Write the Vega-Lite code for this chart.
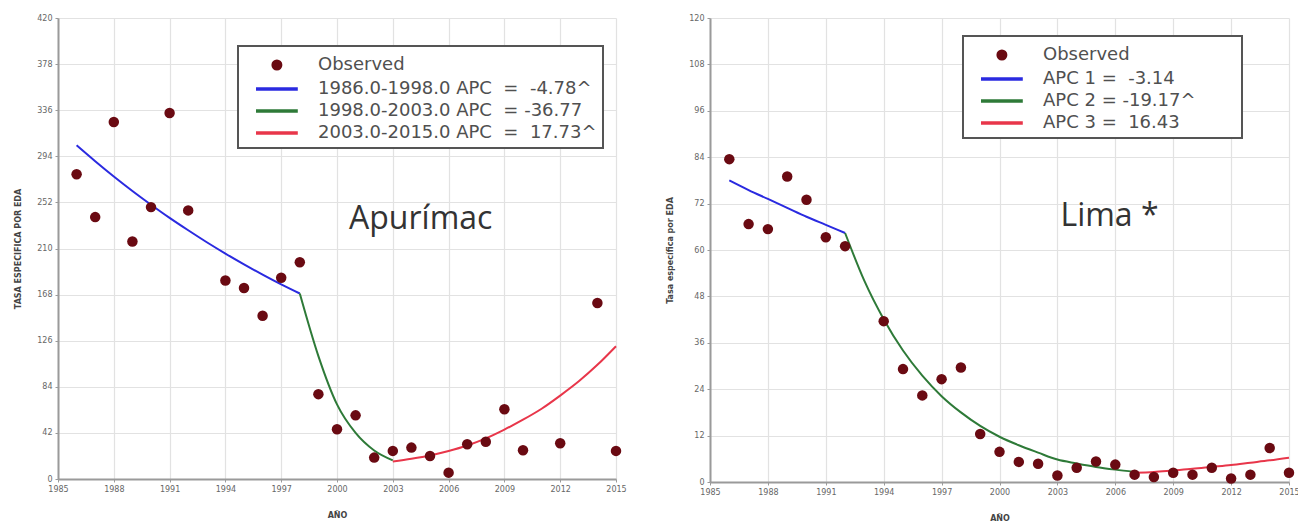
{
  "$schema": "https://vega.github.io/schema/vega-lite/v6.json",
  "background": "white",
  "padding": {"left": 14, "top": 14, "right": 0, "bottom": 5},
  "spacing": 39,
  "config": {
    "view": {"stroke": null},
    "font": "DejaVu Sans",
    "axis": {
      "domainColor": "#9a9a9a", "domainWidth": 2,
      "gridColor": "#e2e2e2", "gridWidth": 1.2,
      "tickColor": "#9a9a9a", "tickSize": 3,
      "labelFont": "DejaVu Sans", "labelFontSize": 8, "labelColor": "#666", "labelFlush": false,
      "titleFont": "DejaVu Sans", "titleFontSize": 8, "titleFontWeight": "bold", "titleColor": "#444"
    },
    "legend": {
      "labelFont": "DejaVu Sans", "labelFontSize": 18, "labelColor": "#505050", "labelLimit": 600
    }
  },
  "datasets": {
    "apu_obs": [
      {"year": 1986, "value": 277.6}, {"year": 1987, "value": 238.6}, {"year": 1988, "value": 325.3},
      {"year": 1989, "value": 216.4}, {"year": 1990, "value": 247.7}, {"year": 1991, "value": 333.5},
      {"year": 1992, "value": 244.7}, {"year": 1994, "value": 180.8}, {"year": 1995, "value": 174.0},
      {"year": 1996, "value": 148.8}, {"year": 1997, "value": 183.3}, {"year": 1998, "value": 197.5},
      {"year": 1999, "value": 77.3}, {"year": 2000, "value": 45.4}, {"year": 2001, "value": 58.0},
      {"year": 2002, "value": 19.5}, {"year": 2003, "value": 25.6}, {"year": 2004, "value": 28.6},
      {"year": 2005, "value": 21.0}, {"year": 2006, "value": 5.8}, {"year": 2007, "value": 31.7},
      {"year": 2008, "value": 34.0}, {"year": 2009, "value": 63.6}, {"year": 2010, "value": 26.2},
      {"year": 2012, "value": 32.6}, {"year": 2014, "value": 160.4}, {"year": 2015, "value": 25.6}
    ],
    "apu_fit": [
      {"year": 1986, "value": 304.0, "series": "1986.0-1998.0 APC\u00a0 =\u00a0 -4.78^"},
      {"year": 1987, "value": 289.5, "series": "1986.0-1998.0 APC\u00a0 =\u00a0 -4.78^"},
      {"year": 1988, "value": 275.6, "series": "1986.0-1998.0 APC\u00a0 =\u00a0 -4.78^"},
      {"year": 1989, "value": 262.4, "series": "1986.0-1998.0 APC\u00a0 =\u00a0 -4.78^"},
      {"year": 1990, "value": 249.9, "series": "1986.0-1998.0 APC\u00a0 =\u00a0 -4.78^"},
      {"year": 1991, "value": 237.9, "series": "1986.0-1998.0 APC\u00a0 =\u00a0 -4.78^"},
      {"year": 1992, "value": 226.6, "series": "1986.0-1998.0 APC\u00a0 =\u00a0 -4.78^"},
      {"year": 1993, "value": 215.7, "series": "1986.0-1998.0 APC\u00a0 =\u00a0 -4.78^"},
      {"year": 1994, "value": 205.4, "series": "1986.0-1998.0 APC\u00a0 =\u00a0 -4.78^"},
      {"year": 1995, "value": 195.6, "series": "1986.0-1998.0 APC\u00a0 =\u00a0 -4.78^"},
      {"year": 1996, "value": 186.2, "series": "1986.0-1998.0 APC\u00a0 =\u00a0 -4.78^"},
      {"year": 1997, "value": 177.3, "series": "1986.0-1998.0 APC\u00a0 =\u00a0 -4.78^"},
      {"year": 1998, "value": 169.0, "series": "1986.0-1998.0 APC\u00a0 =\u00a0 -4.78^"},
      {"year": 1998, "value": 169.0, "series": "1998.0-2003.0 APC\u00a0 =\u00a0-36.77"},
      {"year": 1999, "value": 112.0, "series": "1998.0-2003.0 APC\u00a0 =\u00a0-36.77"},
      {"year": 2000, "value": 68.0, "series": "1998.0-2003.0 APC\u00a0 =\u00a0-36.77"},
      {"year": 2001, "value": 42.0, "series": "1998.0-2003.0 APC\u00a0 =\u00a0-36.77"},
      {"year": 2002, "value": 26.0, "series": "1998.0-2003.0 APC\u00a0 =\u00a0-36.77"},
      {"year": 2003, "value": 17.0, "series": "1998.0-2003.0 APC\u00a0 =\u00a0-36.77"},
      {"year": 2003, "value": 16.0, "series": "2003.0-2015.0 APC\u00a0 =\u00a0 17.73^"},
      {"year": 2004, "value": 18.5, "series": "2003.0-2015.0 APC\u00a0 =\u00a0 17.73^"},
      {"year": 2005, "value": 21.5, "series": "2003.0-2015.0 APC\u00a0 =\u00a0 17.73^"},
      {"year": 2006, "value": 25.5, "series": "2003.0-2015.0 APC\u00a0 =\u00a0 17.73^"},
      {"year": 2007, "value": 30.5, "series": "2003.0-2015.0 APC\u00a0 =\u00a0 17.73^"},
      {"year": 2008, "value": 37.0, "series": "2003.0-2015.0 APC\u00a0 =\u00a0 17.73^"},
      {"year": 2009, "value": 45.0, "series": "2003.0-2015.0 APC\u00a0 =\u00a0 17.73^"},
      {"year": 2010, "value": 54.0, "series": "2003.0-2015.0 APC\u00a0 =\u00a0 17.73^"},
      {"year": 2011, "value": 64.0, "series": "2003.0-2015.0 APC\u00a0 =\u00a0 17.73^"},
      {"year": 2012, "value": 76.0, "series": "2003.0-2015.0 APC\u00a0 =\u00a0 17.73^"},
      {"year": 2013, "value": 89.0, "series": "2003.0-2015.0 APC\u00a0 =\u00a0 17.73^"},
      {"year": 2014, "value": 104.0, "series": "2003.0-2015.0 APC\u00a0 =\u00a0 17.73^"},
      {"year": 2015, "value": 121.0, "series": "2003.0-2015.0 APC\u00a0 =\u00a0 17.73^"}
    ],
    "lima_obs": [
      {"year": 1986, "value": 83.5}, {"year": 1987, "value": 66.7}, {"year": 1988, "value": 65.4},
      {"year": 1989, "value": 79.0}, {"year": 1990, "value": 73.0}, {"year": 1991, "value": 63.3},
      {"year": 1992, "value": 61.0}, {"year": 1994, "value": 41.6}, {"year": 1995, "value": 29.2},
      {"year": 1996, "value": 22.4}, {"year": 1997, "value": 26.6}, {"year": 1998, "value": 29.6},
      {"year": 1999, "value": 12.4}, {"year": 2000, "value": 7.8}, {"year": 2001, "value": 5.2},
      {"year": 2002, "value": 4.7}, {"year": 2003, "value": 1.7}, {"year": 2004, "value": 3.7},
      {"year": 2005, "value": 5.3}, {"year": 2006, "value": 4.5}, {"year": 2007, "value": 1.9},
      {"year": 2008, "value": 1.3}, {"year": 2009, "value": 2.4}, {"year": 2010, "value": 1.9},
      {"year": 2011, "value": 3.7}, {"year": 2012, "value": 0.9}, {"year": 2013, "value": 1.9},
      {"year": 2014, "value": 8.8}, {"year": 2015, "value": 2.4}
    ],
    "lima_fit": [
      {"year": 1986, "value": 78.0, "series": "APC 1 =\u00a0 -3.14"},
      {"year": 1987, "value": 75.5, "series": "APC 1 =\u00a0 -3.14"},
      {"year": 1988, "value": 73.2, "series": "APC 1 =\u00a0 -3.14"},
      {"year": 1989, "value": 70.9, "series": "APC 1 =\u00a0 -3.14"},
      {"year": 1990, "value": 68.6, "series": "APC 1 =\u00a0 -3.14"},
      {"year": 1991, "value": 66.5, "series": "APC 1 =\u00a0 -3.14"},
      {"year": 1992, "value": 64.4, "series": "APC 1 =\u00a0 -3.14"},
      {"year": 1992, "value": 64.4, "series": "APC 2 = -19.17^"},
      {"year": 1993, "value": 52.0, "series": "APC 2 = -19.17^"},
      {"year": 1994, "value": 42.1, "series": "APC 2 = -19.17^"},
      {"year": 1995, "value": 34.0, "series": "APC 2 = -19.17^"},
      {"year": 1996, "value": 27.5, "series": "APC 2 = -19.17^"},
      {"year": 1997, "value": 22.2, "series": "APC 2 = -19.17^"},
      {"year": 1998, "value": 18.0, "series": "APC 2 = -19.17^"},
      {"year": 1999, "value": 14.5, "series": "APC 2 = -19.17^"},
      {"year": 2000, "value": 11.7, "series": "APC 2 = -19.17^"},
      {"year": 2001, "value": 9.5, "series": "APC 2 = -19.17^"},
      {"year": 2002, "value": 7.6, "series": "APC 2 = -19.17^"},
      {"year": 2003, "value": 5.8, "series": "APC 2 = -19.17^"},
      {"year": 2004, "value": 4.8, "series": "APC 2 = -19.17^"},
      {"year": 2005, "value": 3.9, "series": "APC 2 = -19.17^"},
      {"year": 2006, "value": 3.2, "series": "APC 2 = -19.17^"},
      {"year": 2007, "value": 2.6, "series": "APC 2 = -19.17^"},
      {"year": 2007, "value": 2.4, "series": "APC 3 =\u00a0 16.43"},
      {"year": 2008, "value": 2.6, "series": "APC 3 =\u00a0 16.43"},
      {"year": 2009, "value": 3.0, "series": "APC 3 =\u00a0 16.43"},
      {"year": 2010, "value": 3.4, "series": "APC 3 =\u00a0 16.43"},
      {"year": 2011, "value": 3.9, "series": "APC 3 =\u00a0 16.43"},
      {"year": 2012, "value": 4.4, "series": "APC 3 =\u00a0 16.43"},
      {"year": 2013, "value": 5.0, "series": "APC 3 =\u00a0 16.43"},
      {"year": 2014, "value": 5.6, "series": "APC 3 =\u00a0 16.43"},
      {"year": 2015, "value": 6.3, "series": "APC 3 =\u00a0 16.43"}
    ],
    "apu_label": [{"year": 2004.5, "value": 237, "label": "Apurímac"}],
    "lima_label": [{"year": 2005.7, "value": 68.7, "label": "Lima *"}]
  },
  "resolve": {"scale": {"color": "independent"}, "legend": {"color": "independent"}},
  "hconcat": [
    {
      "width": 558,
      "height": 461,
      "layer": [
        {"data": {"name": "apu_fit"}, "mark": {"type": "line", "strokeWidth": 2, "interpolate": "monotone"},
         "encoding": {
          "x": {"field": "year", "type": "quantitative", "scale": {"domain": [1985, 2015], "nice": false, "zero": false},
                "axis": {"title": "AÑO", "values": [1985,1988,1991,1994,1997,2000,2003,2006,2009,2012,2015], "format": "d", "labelPadding": 3, "titlePadding": 18}},
          "y": {"field": "value", "type": "quantitative", "scale": {"domain": [0, 420], "nice": false},
                "axis": {"title": "TASA ESPECIFICA POR EDA", "values": [0,42,84,126,168,210,252,294,336,378,420], "labelPadding": 3, "titlePadding": 14}},
          "color": {"field": "series", "type": "nominal",
            "scale": {"domain": ["Observed", "1986.0-1998.0 APC\u00a0 =\u00a0 -4.78^", "1998.0-2003.0 APC\u00a0 =\u00a0-36.77", "2003.0-2015.0 APC\u00a0 =\u00a0 17.73^"],
                      "range": ["#6a0a12", "#2a2ae0", "#2e7a38", "#e8364a"]},
            "legend": {
              "title": null, "orient": "none", "legendX": 180, "legendY": 28,
              "strokeColor": "#555", "fillColor": "white", "padding": 6,
              "symbolSize": 484, "symbolStrokeWidth": 3.5, "symbolType": "stroke", "symbolOffset": 10, "labelOffset": 38, "rowPadding": 0,
              "encode": {
                "legend": {"update": {"strokeWidth": {"value": 2}}},
                "symbols": {"update": {
                  "shape": {"signal": "datum.value === 'Observed' ? 'M0.56,0A0.34,0.34,0,1,0,1.24,0A0.34,0.34,0,1,0,0.56,0Z' : 'M-1,0H2.8'"},
                  "fill": {"signal": "datum.value === 'Observed' ? '#6a0a12' : 'transparent'"}
                }}
              }
            }}
         }},
        {"data": {"name": "apu_obs"}, "mark": {"type": "circle", "size": 110, "opacity": 1, "color": "#6a0a12"},
         "encoding": {
          "x": {"field": "year", "type": "quantitative"},
          "y": {"field": "value", "type": "quantitative"}
         }},
        {"data": {"name": "apu_label"}, "mark": {"type": "text", "fontSize": 32, "font": "Open Sans", "color": "#333"},
         "encoding": {
          "x": {"field": "year", "type": "quantitative"},
          "y": {"field": "value", "type": "quantitative"},
          "text": {"field": "label"}
         }}
      ]
    },
    {
      "width": 579,
      "height": 464,
      "layer": [
        {"data": {"name": "lima_fit"}, "mark": {"type": "line", "strokeWidth": 2, "interpolate": "monotone"},
         "encoding": {
          "x": {"field": "year", "type": "quantitative", "scale": {"domain": [1985, 2015], "nice": false, "zero": false},
                "axis": {"title": "AÑO", "values": [1985,1988,1991,1994,1997,2000,2003,2006,2009,2012,2015], "format": "d", "labelPadding": 3, "titlePadding": 18}},
          "y": {"field": "value", "type": "quantitative", "scale": {"domain": [0, 120], "nice": false},
                "axis": {"title": "Tasa específica por EDA", "values": [0,12,24,36,48,60,72,84,96,108,120], "labelPadding": 3, "titlePadding": 14}},
          "color": {"field": "series", "type": "nominal",
            "scale": {"domain": ["Observed", "APC 1 =\u00a0 -3.14", "APC 2 = -19.17^", "APC 3 =\u00a0 16.43"],
                      "range": ["#6a0a12", "#2a2ae0", "#2e7a38", "#e8364a"]},
            "legend": {
              "title": "\u00a0", "titleOrient": "right", "titlePadding": 40, "titleFontSize": 11,
              "orient": "none", "legendX": 253, "legendY": 18,
              "strokeColor": "#555", "fillColor": "white", "padding": 6,
              "symbolSize": 484, "symbolStrokeWidth": 3.5, "symbolType": "stroke", "symbolOffset": 10, "labelOffset": 38, "rowPadding": 0,
              "encode": {
                "legend": {"update": {"strokeWidth": {"value": 2}}},
                "symbols": {"update": {
                  "shape": {"signal": "datum.value === 'Observed' ? 'M0.56,0A0.34,0.34,0,1,0,1.24,0A0.34,0.34,0,1,0,0.56,0Z' : 'M-1,0H2.8'"},
                  "fill": {"signal": "datum.value === 'Observed' ? '#6a0a12' : 'transparent'"}
                }}
              }
            }}
         }},
        {"data": {"name": "lima_obs"}, "mark": {"type": "circle", "size": 110, "opacity": 1, "color": "#6a0a12"},
         "encoding": {
          "x": {"field": "year", "type": "quantitative"},
          "y": {"field": "value", "type": "quantitative"}
         }},
        {"data": {"name": "lima_label"}, "mark": {"type": "text", "fontSize": 32, "font": "Open Sans", "color": "#333"},
         "encoding": {
          "x": {"field": "year", "type": "quantitative"},
          "y": {"field": "value", "type": "quantitative"},
          "text": {"field": "label"}
         }}
      ]
    }
  ]
}
